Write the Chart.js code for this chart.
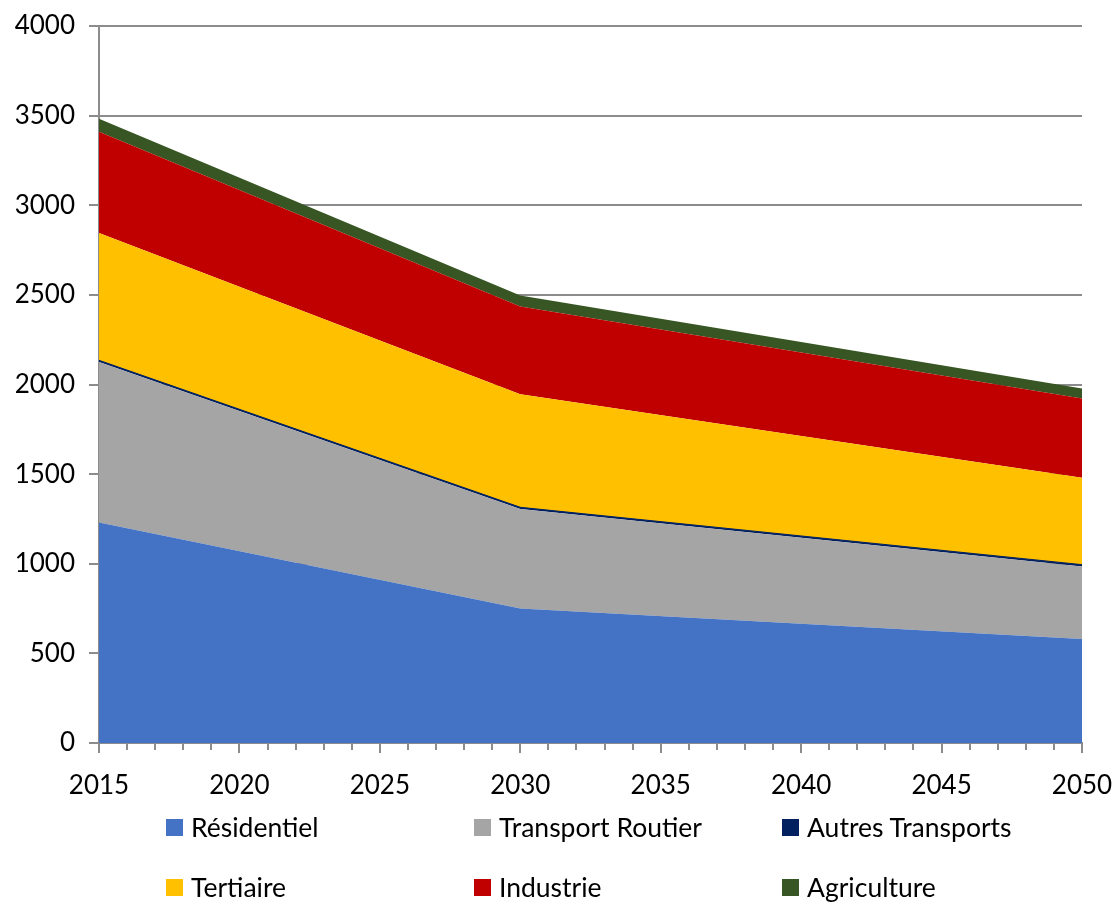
<!DOCTYPE html>
<html>
<head>
<meta charset="utf-8">
<script src="https://cdn.jsdelivr.net/npm/chart.js@4/dist/chart.umd.min.js"></script>
<style>
  html, body { margin: 0; padding: 0; background: #fff; }
  #wrap { position: relative; width: 1118px; height: 903px; }
  #legend { position: absolute; left: 166px; top: 811px; width: 940px; font-family: Lato, sans-serif; font-size: 26.5px; color: #000; }
  .item { position: absolute; display: flex; align-items: center; white-space: nowrap; }
  .box { width: 17px; height: 17px; margin-right: 8px; }
</style>
</head>
<body>
<div id="wrap">
  <canvas id="chart" width="1118" height="903"></canvas>
  <div id="legend"></div>
</div>
<script>
// years where the series have values
const years = [2015, 2030, 2050];

// stacked values, bottom to top
const residentiel = [1230, 750, 580];
const transportRoutier = [895, 555, 405];
const autresTransports = [10, 10, 10];
const tertiaire = [710, 630, 485];
const industrie = [565, 490, 442];
const agriculture = [72, 62, 56];

const seriesNames = ['Résidentiel', 'Transport Routier', 'Autres Transports', 'Tertiaire', 'Industrie', 'Agriculture'];
const seriesData = [residentiel, transportRoutier, autresTransports, tertiaire, industrie, agriculture];
const seriesColors = ['#4472C4', '#A5A5A5', '#002060', '#FFC000', '#C00000', '#375623'];

const yTicks = [0, 500, 1000, 1500, 2000, 2500, 3000, 3500, 4000];

const gridGray = '#8c8c8c';
const font = { family: 'Lato, sans-serif', size: 26 };

const datasets = seriesNames.map((name, i) => ({
    label: name,
    data: seriesData[i].map((v, j) => ({ x: years[j], y: v })),
    backgroundColor: seriesColors[i],
    borderColor: seriesColors[i],
    borderWidth: i === 2 ? 1 : 0,
    pointRadius: 0,
    tension: 0,
    fill: i === 0 ? 'origin' : '-1'
}));

// small yearly ticks between the 5-year labels
const minorTicks = {
    id: 'minorTicks',
    afterDraw(chart) {
        const x = chart.scales.x;
        const ctx = chart.ctx;
        ctx.save();
        ctx.strokeStyle = gridGray;
        ctx.lineWidth = 2;
        for (let yr = x.min; yr <= x.max; yr++) {
            if (yr % 5 === 0) continue;
            const px = Math.round(x.getPixelForValue(yr));
            ctx.beginPath();
            ctx.moveTo(px, x.top);
            ctx.lineTo(px, x.top + 7);
            ctx.stroke();
        }
        ctx.restore();
    }
};

const chart = new Chart(document.getElementById('chart').getContext('2d'), {
    type: 'line',
    data: { datasets: datasets },
    options: {
        responsive: false,
        animation: false,
        layout: { padding: { top: 26, right: 36, bottom: 103, left: 0 } },
        plugins: {
            legend: { display: false },
            tooltip: { enabled: false }
        },
        scales: {
            x: {
                type: 'linear',
                min: 2015,
                max: 2050,
                afterFit: (s) => { s.height = 57; s.paddingRight = 0; s.paddingLeft = 0; },
                ticks: { stepSize: 5, color: '#000', font: font, padding: 17, maxRotation: 0, callback: (v) => String(v) },
                grid: { drawOnChartArea: false, color: gridGray, lineWidth: 2, tickLength: 10 },
                border: { color: gridGray, width: 2 }
            },
            y: {
                stacked: true,
                min: 0,
                max: 4000,
                afterFit: (s) => { s.width = 99; s.paddingTop = 0; s.paddingBottom = 0; },
                afterBuildTicks: (s) => { s.ticks = yTicks.map(v => ({ value: v })); },
                ticks: { color: '#000', font: font, padding: 14, callback: (v) => String(v) },
                grid: { color: gridGray, lineWidth: 2, tickLength: 10 },
                border: { color: gridGray, width: 2 }
            }
        }
    },
    plugins: [minorTicks]
});

// legend: 3 columns, 2 rows
const legend = document.getElementById('legend');
seriesNames.forEach((name, i) => {
    const el = document.createElement('div');
    el.className = 'item';
    el.style.left = (i % 3) * 308 + 'px';
    el.style.top = Math.floor(i / 3) * 60 + 'px';
    el.innerHTML = '<div class="box" style="background:' + seriesColors[i] + '"></div><span>' + name + '</span>';
    legend.appendChild(el);
});
</script>
</body>
</html>
